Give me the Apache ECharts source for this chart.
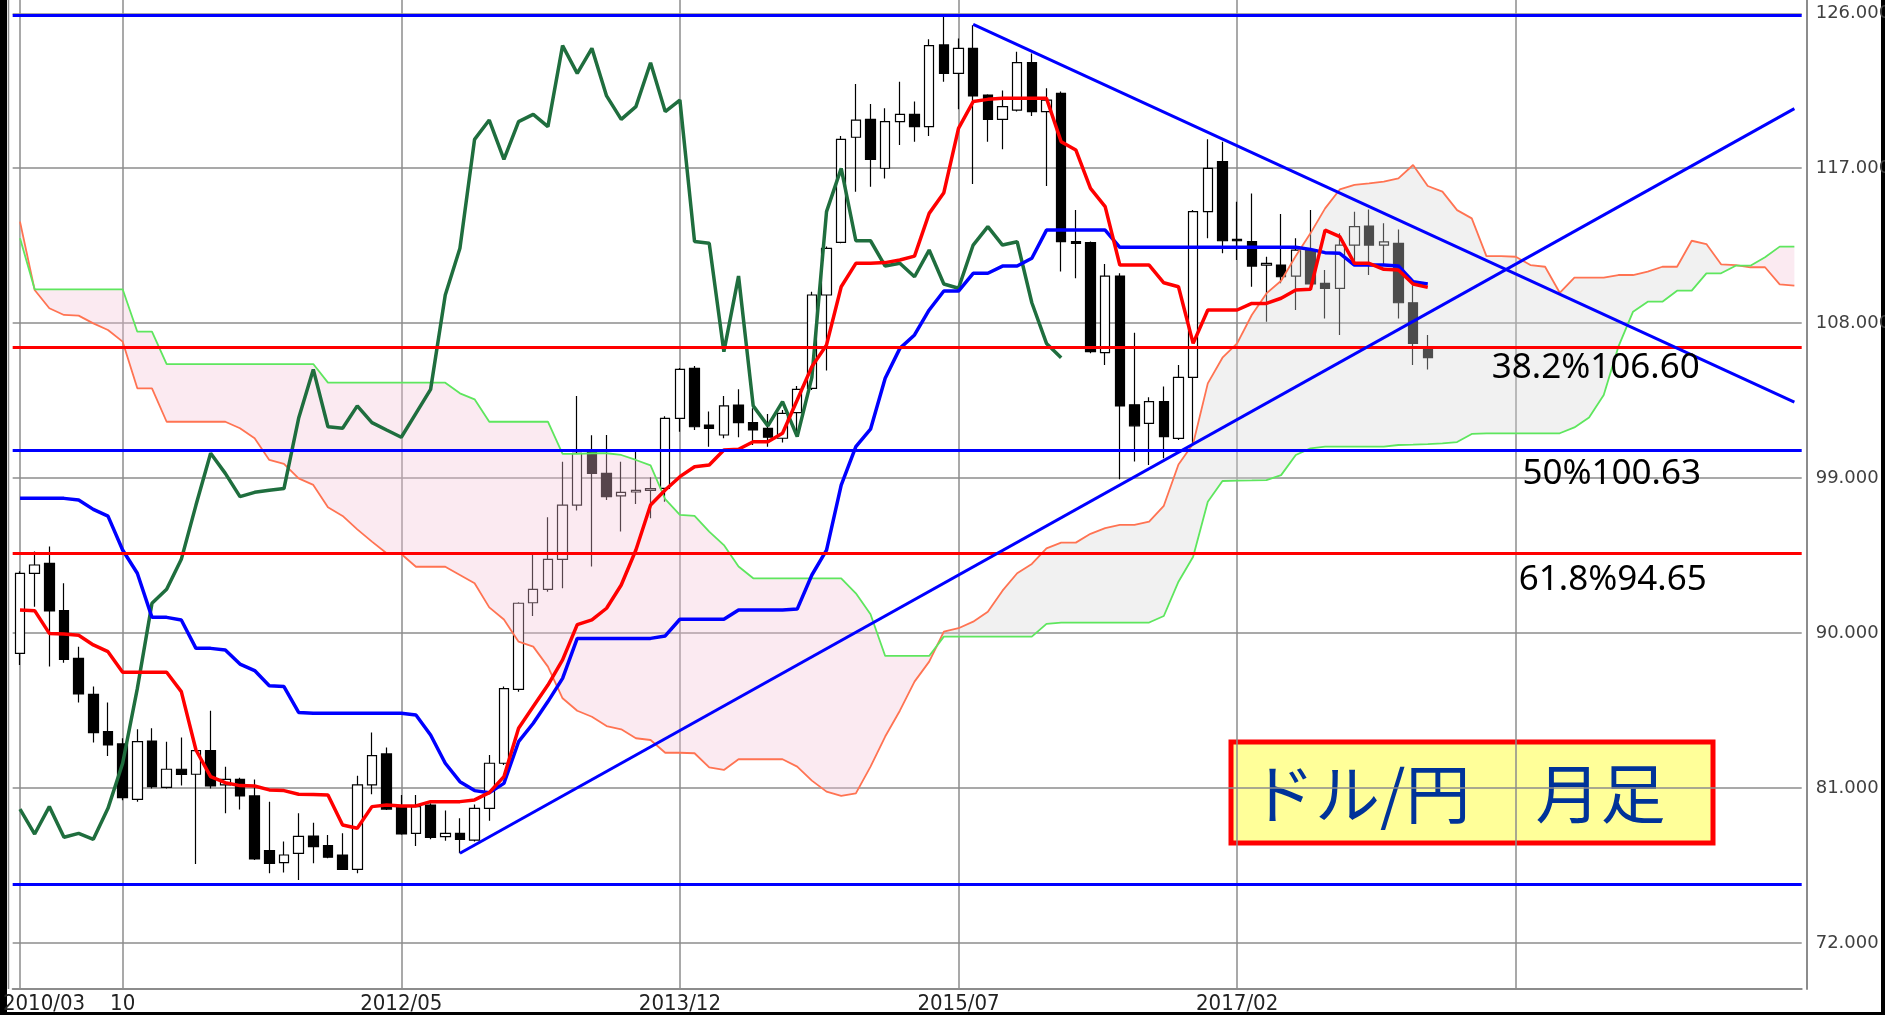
<!DOCTYPE html>
<html>
<head>
<meta charset="utf-8">
<title>ドル/円 月足</title>
<script src="https://cdn.jsdelivr.net/npm/echarts@6/dist/echarts.min.js"></script>
<style>
html, body { margin: 0; padding: 0; background: #fff; }
#chart { width: 1885px; height: 1015px; }
</style>
</head>
<body>
<div id="chart"></div>
<script>
// USD/JPY monthly, 2010/03 - 2018/03 : [open, close, low, high]
var candles = [
  [88.83,93.48,88.15,93.60],[93.48,93.96,91.54,94.74],[94.06,91.29,88.06,95.03],[91.31,88.48,88.29,92.90],
  [88.54,86.47,85.97,89.22],[86.45,84.23,83.65,86.90],[84.28,83.51,82.87,85.97],[83.57,80.45,80.30,83.90],
  [80.35,83.70,80.22,84.42],[83.74,81.09,80.99,84.48],[81.05,82.10,80.99,83.70],[82.10,81.80,81.15,83.95],
  [81.81,83.18,76.60,83.30],[83.18,81.13,80.99,85.50],[81.19,81.51,79.54,82.25],[81.51,80.55,79.77,81.60],
  [80.55,76.89,76.83,81.51],[77.37,76.64,76.06,80.22],[76.68,77.12,76.11,77.90],[77.22,78.20,75.67,79.54],
  [78.22,77.61,76.64,78.99],[77.66,76.99,76.93,78.28],[77.12,76.29,76.25,78.38],[76.29,81.19,76.06,81.73],
  [81.19,82.89,80.65,84.23],[82.99,79.79,79.73,83.37],[79.93,78.34,78.30,80.61],[78.38,79.93,77.64,80.61],
  [80.02,78.15,78.03,80.12],[78.19,78.38,77.95,79.70],[78.38,78.03,77.22,79.25],[77.99,79.83,77.90,80.05],
  [79.83,82.45,79.11,82.93],[82.45,86.78,82.35,86.90],[86.74,91.74,86.60,91.80],[91.77,92.55,91.00,94.54],
  [92.55,94.29,92.41,96.73],[94.29,97.44,92.61,99.96],[97.44,100.45,97.12,103.77],[100.60,99.28,93.87,101.50],
  [99.28,97.93,97.74,101.51],[97.97,98.18,95.90,99.96],[98.20,98.30,97.50,100.60],[98.30,98.40,96.67,99.06],
  [98.41,102.48,97.63,102.60],[102.48,105.32,101.70,105.40],[105.38,101.99,101.80,105.52],[102.09,101.90,100.83,102.87],
  [101.51,103.20,101.32,103.78],[103.25,102.23,101.38,104.16],[102.23,101.80,100.93,103.06],[101.90,101.38,100.83,102.73],
  [101.32,102.77,101.07,102.96],[102.81,104.16,101.50,104.36],[104.22,109.64,104.12,109.83],[109.64,112.35,105.25,112.45],
  [112.70,118.68,112.64,118.87],[118.80,119.80,115.64,121.89],[119.84,117.52,115.93,120.73],[117.00,119.71,116.40,120.48],
  [119.71,120.13,118.35,122.03],[120.13,119.42,118.54,120.87],[119.42,124.12,118.87,124.49],[124.16,122.51,122.03,125.80],
  [122.51,123.96,120.42,124.54],[123.96,121.20,116.09,125.30],[121.25,119.84,118.54,121.30],[119.84,120.58,118.10,121.51],
  [120.38,123.13,120.29,123.77],[123.13,120.29,120.03,123.67],[120.29,120.96,115.97,121.64],[121.35,112.74,111.00,121.45],
  [112.74,112.64,110.61,114.58],[112.68,106.35,106.25,112.75],[106.29,110.74,105.57,111.44],[110.74,103.20,98.94,110.90],
  [103.26,102.04,99.97,107.45],[102.19,103.45,99.77,103.70],[103.45,101.42,100.16,104.32],[101.31,104.86,101.22,105.57],
  [104.86,114.48,101.00,114.57],[114.48,116.99,112.93,118.68],[117.38,112.79,112.06,118.54],[112.87,112.79,111.67,115.06],
  [112.74,111.32,110.12,115.54],[111.38,111.48,108.09,111.86],[111.38,110.70,110.32,114.34],[110.74,112.25,108.77,112.93],
  [112.25,110.28,110.20,114.57],[110.32,110.03,108.28,111.09],[110.03,112.54,107.31,113.22],[112.54,113.61,111.57,114.48],
  [113.64,112.54,110.80,114.61],[112.54,112.73,111.40,113.80],[112.64,109.19,108.28,113.45],[109.19,106.83,105.57,110.20],
  [106.60,106.00,105.32,107.31]
];

// 転換線
var tenkan = [
  91.35,91.31,89.99,89.96,89.88,89.32,88.93,87.73,87.73,87.73,
  87.73,86.61,83.22,81.67,81.32,81.15,81.13,80.90,80.86,80.65,
  80.64,80.60,78.86,78.67,79.93,80.03,79.97,79.97,80.22,80.22,
  80.22,80.32,80.74,81.67,84.48,85.74,86.99,88.45,90.50,90.77,
  91.45,92.80,94.83,97.45,98.32,99.09,99.67,99.77,100.64,100.68,
  101.12,101.12,101.61,103.54,105.48,106.74,110.12,111.48,111.48,111.52,
  111.67,111.90,114.38,115.58,119.32,120.87,121.00,121.06,121.06,121.06,
  121.06,118.54,118.06,115.83,114.77,111.38,111.38,111.38,110.35,110.12,
  106.83,108.77,108.77,108.77,109.15,109.15,109.45,109.93,109.97,113.41,
  113.03,111.48,111.48,111.13,111.09,110.28,110.08
];

// 基準線
var kijun = [
  97.83,97.83,97.83,97.83,97.73,97.19,96.80,94.83,93.48,90.92,
  90.92,90.77,89.12,89.12,89.03,88.21,87.83,86.95,86.90,85.40,
  85.35,85.35,85.35,85.35,85.35,85.35,85.35,85.25,84.09,82.45,
  81.38,80.86,80.74,81.28,83.70,84.77,86.03,87.38,89.70,89.70,
  89.70,89.70,89.70,89.70,89.84,90.81,90.81,90.81,90.81,91.35,
  91.35,91.35,91.35,91.40,93.38,94.83,98.60,100.83,101.85,104.80,
  106.54,107.32,108.77,109.87,109.87,110.90,110.90,111.32,111.32,111.77,
  113.41,113.41,113.41,113.41,113.41,112.41,112.41,112.41,112.41,112.41,
  112.41,112.41,112.41,112.41,112.41,112.41,112.41,112.41,112.29,112.10,
  112.06,111.38,111.38,111.38,111.32,110.41,110.28
];

// 先行スパン1 (already placed 25 months ahead)
var senkouA = [
  113.90,109.93,108.87,108.48,108.44,107.99,107.61,106.93,104.22,104.22,
  102.28,102.28,102.28,102.28,102.28,101.90,101.32,100.06,99.83,98.99,
  98.61,97.31,96.81,96.03,95.32,94.64,94.60,93.86,93.86,93.86,
  93.38,92.90,91.50,90.80,89.51,89.22,88.06,86.22,85.50,85.15,
  84.61,84.42,83.90,83.80,83.06,83.06,83.03,82.21,82.06,82.68,
  82.68,82.68,82.68,82.25,81.44,80.80,80.55,80.70,82.25,84.00,
  85.50,87.19,88.35,90.09,90.29,90.67,91.25,92.47,93.48,94.02,
  94.93,95.26,95.26,95.77,96.10,96.29,96.29,96.48,97.40,99.80,
  101.00,104.51,106.00,106.83,108.48,109.73,110.47,111.90,113.22,114.67,
  115.77,116.03,116.12,116.22,116.41,117.19,115.97,115.64,114.57,114.09,
  111.90,111.90,111.86,111.38,111.28,109.77,110.65,110.65,110.65,110.80,
  110.80,111.00,111.28,111.28,112.79,112.60,111.42,111.38,111.25,111.25,
  110.26,110.18
];

// 先行スパン2
var senkouB = [
  112.93,109.97,109.97,109.97,109.97,109.97,109.97,109.97,107.51,107.51,
  105.63,105.63,105.63,105.63,105.63,105.63,105.63,105.63,105.63,105.63,
  105.63,104.55,104.55,104.55,104.55,104.55,104.55,104.55,104.55,104.55,
  103.93,103.58,102.28,102.28,102.28,102.28,102.28,100.41,100.41,100.45,
  100.45,100.35,100.06,99.75,97.78,96.87,96.81,95.90,95.12,93.87,
  93.19,93.19,93.19,93.19,93.19,93.19,93.19,92.32,91.10,88.68,
  88.68,88.68,88.68,89.80,89.80,89.80,89.80,89.80,89.80,89.80,
  90.54,90.62,90.62,90.62,90.62,90.62,90.62,90.62,91.00,92.99,
  94.44,97.64,98.84,98.86,98.87,98.89,99.18,100.35,100.73,100.83,
  100.83,100.83,100.83,100.83,100.93,100.95,100.98,101.02,101.10,101.57,
  101.61,101.61,101.61,101.61,101.61,101.61,101.95,102.53,103.83,106.64,
  108.67,109.25,109.25,109.89,109.89,110.90,110.90,111.34,111.34,111.83,
  112.45,112.45
];

var yTicks = [72, 81, 90, 99, 108, 117, 126];
var xTickMonths = ['2010/03', '2010/10', '2012/05', '2013/12', '2015/07', '2017/02'];
var xTickLabels = ['2010/03', '10', '2012/05', '2013/12', '2015/07', '2017/02'];
var xGridMonths = ['2010/03', '2010/10', '2012/05', '2013/12', '2015/07', '2017/02', '2018/09'];

// fibonacci retracement levels (high 125.86 / low 75.40)
var fibLevels = [125.86, 106.60, 100.63, 94.65, 75.40];
var fibColors = ['#0000ff', '#ff0000', '#0000ff', '#ff0000', '#0000ff'];
var fibTexts = [['38.2%106.60', 106.60], ['50%100.63', 100.63], ['61.8%94.65', 94.65]];

// trend lines: [monthIndex, price] pairs
var trendUp = [[30, 77.22], [121, 120.46]];
var trendDown = [[65, 125.36], [121, 103.42]];

var shift = 25;
var months = [];
for (var k = 0; k < senkouA.length; k++) {
  var m = 3 + k;
  var yy = 2010 + Math.floor((m - 1) / 12);
  var mm = ((m - 1) % 12) + 1;
  months.push(yy + '/' + (mm < 10 ? '0' + mm : mm));
}

// 遅行スパン : close placed back 25 months
var chikou = months.map(function (m, i) {
  return i + shift < candles.length ? candles[i + shift][1] : null;
});

// cloud band, split by which span is on top
var kumoBase = senkouA.map(function (a, i) { return Math.min(a, senkouB[i]); });
var kumoRed = senkouA.map(function (a, i) { return Math.max(senkouB[i] - a, 0); });
var kumoUp = senkouA.map(function (a, i) { return Math.max(a - senkouB[i], 0); });

var gridColor = '#8c8c8c';
var chart = echarts.init(document.getElementById('chart'));

var option = {
  animation: false,
  backgroundColor: '#ffffff',
  grid: { left: 12.67, right: 83.3, top: 0, bottom: 26, containLabel: false, outerBoundsMode: 'none' },
  xAxis: {
    type: 'category',
    data: months,
    boundaryGap: true,
    axisLine: { show: true, lineStyle: { color: '#8c8c8c', width: 2 } },
    axisTick: { show: false },
    splitLine: { show: false },
    axisLabel: {
      interval: function (idx, val) { return xTickMonths.indexOf(val) >= 0; },
      formatter: function (val) {
        var t = xTickLabels[xTickMonths.indexOf(val)];
        return val === xTickMonths[0] ? '{first|' + t + '}' : t;
      },
      rich: {
        first: {
          padding: [0, 0, 0, 48],
          fontFamily: '"Liberation Sans Narrow", "DejaVu Sans Condensed", sans-serif',
          fontSize: 22,
          color: '#222'
        }
      },
      fontFamily: '"Liberation Sans Narrow", "DejaVu Sans Condensed", sans-serif',
      fontSize: 22,
      color: '#222',
      margin: 4
    }
  },
  yAxis: {
    type: 'value',
    position: 'right',
    min: 69.34,
    max: 126.77,
    offset: 5,
    axisLine: { show: true, lineStyle: { color: '#8c8c8c', width: 2 } },
    axisTick: { show: false },
    splitLine: { show: false },
    axisLabel: {
      customValues: yTicks,
      formatter: function (v) { return v.toFixed(3); },
      fontFamily: '"DejaVu Sans", sans-serif',
      fontSize: 18,
      color: '#404040',
      margin: 9
    }
  },
  series: [
    {
      name: 'candles',
      type: 'candlestick',
      data: candles,
      barWidth: 10,
      itemStyle: {
        color: '#ffffff',
        color0: '#000000',
        borderColor: '#000000',
        borderColor0: '#000000',
        borderWidth: 1.2
      },
      markLine: {
        silent: true,
        z: 1,
        symbol: ['none', 'none'],
        label: { show: false },
        lineStyle: { color: gridColor, width: 1.5, type: 'solid' },
        data: xGridMonths.map(function (m) { return { xAxis: m }; })
          .concat(yTicks.map(function (v) { return { yAxis: v }; }))
      }
    },
    {
      name: 'kumoBase', type: 'line', stack: 'kumo', data: kumoBase,
      symbol: 'none', lineStyle: { width: 0, opacity: 0 }, silent: true
    },
    {
      name: 'kumoRed', type: 'line', stack: 'kumo', data: kumoRed,
      symbol: 'none', lineStyle: { width: 0, opacity: 0 }, silent: true,
      areaStyle: { color: 'rgba(244, 196, 216, 0.5)' }
    },
    {
      name: 'kumoUp', type: 'line', stack: 'kumo', data: kumoUp,
      symbol: 'none', lineStyle: { width: 0, opacity: 0 }, silent: true,
      areaStyle: { color: 'rgba(216, 216, 216, 0.5)' }
    },
    {
      name: 'senkouA', type: 'line', data: senkouA, symbol: 'none',
      lineStyle: { color: '#ff7352', width: 1.8 }
    },
    {
      name: 'senkouB', type: 'line', data: senkouB, symbol: 'none',
      lineStyle: { color: '#5ee65e', width: 1.8 }
    },
    {
      name: 'chikou', type: 'line', data: chikou, symbol: 'none',
      lineStyle: { color: '#1f6e3e', width: 3.5 }
    },
    {
      name: 'kijun', type: 'line', data: kijun, symbol: 'none',
      lineStyle: { color: '#0000ff', width: 3.5 }
    },
    {
      name: 'tenkan', type: 'line', data: tenkan, symbol: 'none',
      lineStyle: { color: '#ff0000', width: 3.5 },
      markLine: {
        silent: true,
        symbol: ['none', 'none'],
        label: { show: false },
        lineStyle: { width: 3, type: 'solid' },
        data: fibLevels.map(function (v, i) {
          return { yAxis: v, lineStyle: { color: fibColors[i], width: 3, type: 'solid' } };
        }).concat([
          [{ coord: trendUp[0] }, { coord: trendUp[1], lineStyle: { color: '#0000ff', width: 3, type: 'solid' } }],
          [{ coord: trendDown[0] }, { coord: trendDown[1], lineStyle: { color: '#0000ff', width: 3, type: 'solid' } }]
        ])
      },
      markPoint: {
        silent: true,
        symbol: 'circle',
        symbolSize: 0,
        data: fibTexts.map(function (f, i) {
          var offs = [[-8, 21], [8, 24], [9, 27]][i];
          return {
            coord: [108, f[1]],
            label: {
              show: true,
              formatter: f[0],
              position: 'inside',
              offset: offs,
              color: '#000',
              fontSize: 35,
              fontFamily: '"Noto Sans", sans-serif'
            }
          };
        })
      }
    }
  ],
  graphic: [
    { type: 'rect', left: 0, top: 0, shape: { width: 7, height: 1015 }, style: { fill: '#000' } },
    { type: 'rect', left: 1881, top: 0, shape: { width: 4, height: 1015 }, style: { fill: '#000' } },
    { type: 'rect', left: 0, top: 1012, shape: { width: 1885, height: 3 }, style: { fill: '#000' } },
    { type: 'line', shape: { x1: 8.5, y1: 0, x2: 8.5, y2: 989 }, style: { stroke: gridColor, lineWidth: 1.5 } },
    {
      type: 'group',
      children: [
        {
          type: 'rect',
          shape: { x: 1231, y: 742, width: 482, height: 101 },
          style: { fill: '#ffff99', stroke: '#ff0000', lineWidth: 5 }
        },
        {
          type: 'text',
          x: 1250, y: 793,
          style: {
            text: 'ドル/円　月足',
            fill: '#003399',
            fontSize: 65,
            fontFamily: '"Noto Sans CJK JP", sans-serif',
            align: 'left',
            verticalAlign: 'middle'
          }
        }
      ]
    }
  ]
};

chart.setOption(option);
</script>
</body>
</html>
